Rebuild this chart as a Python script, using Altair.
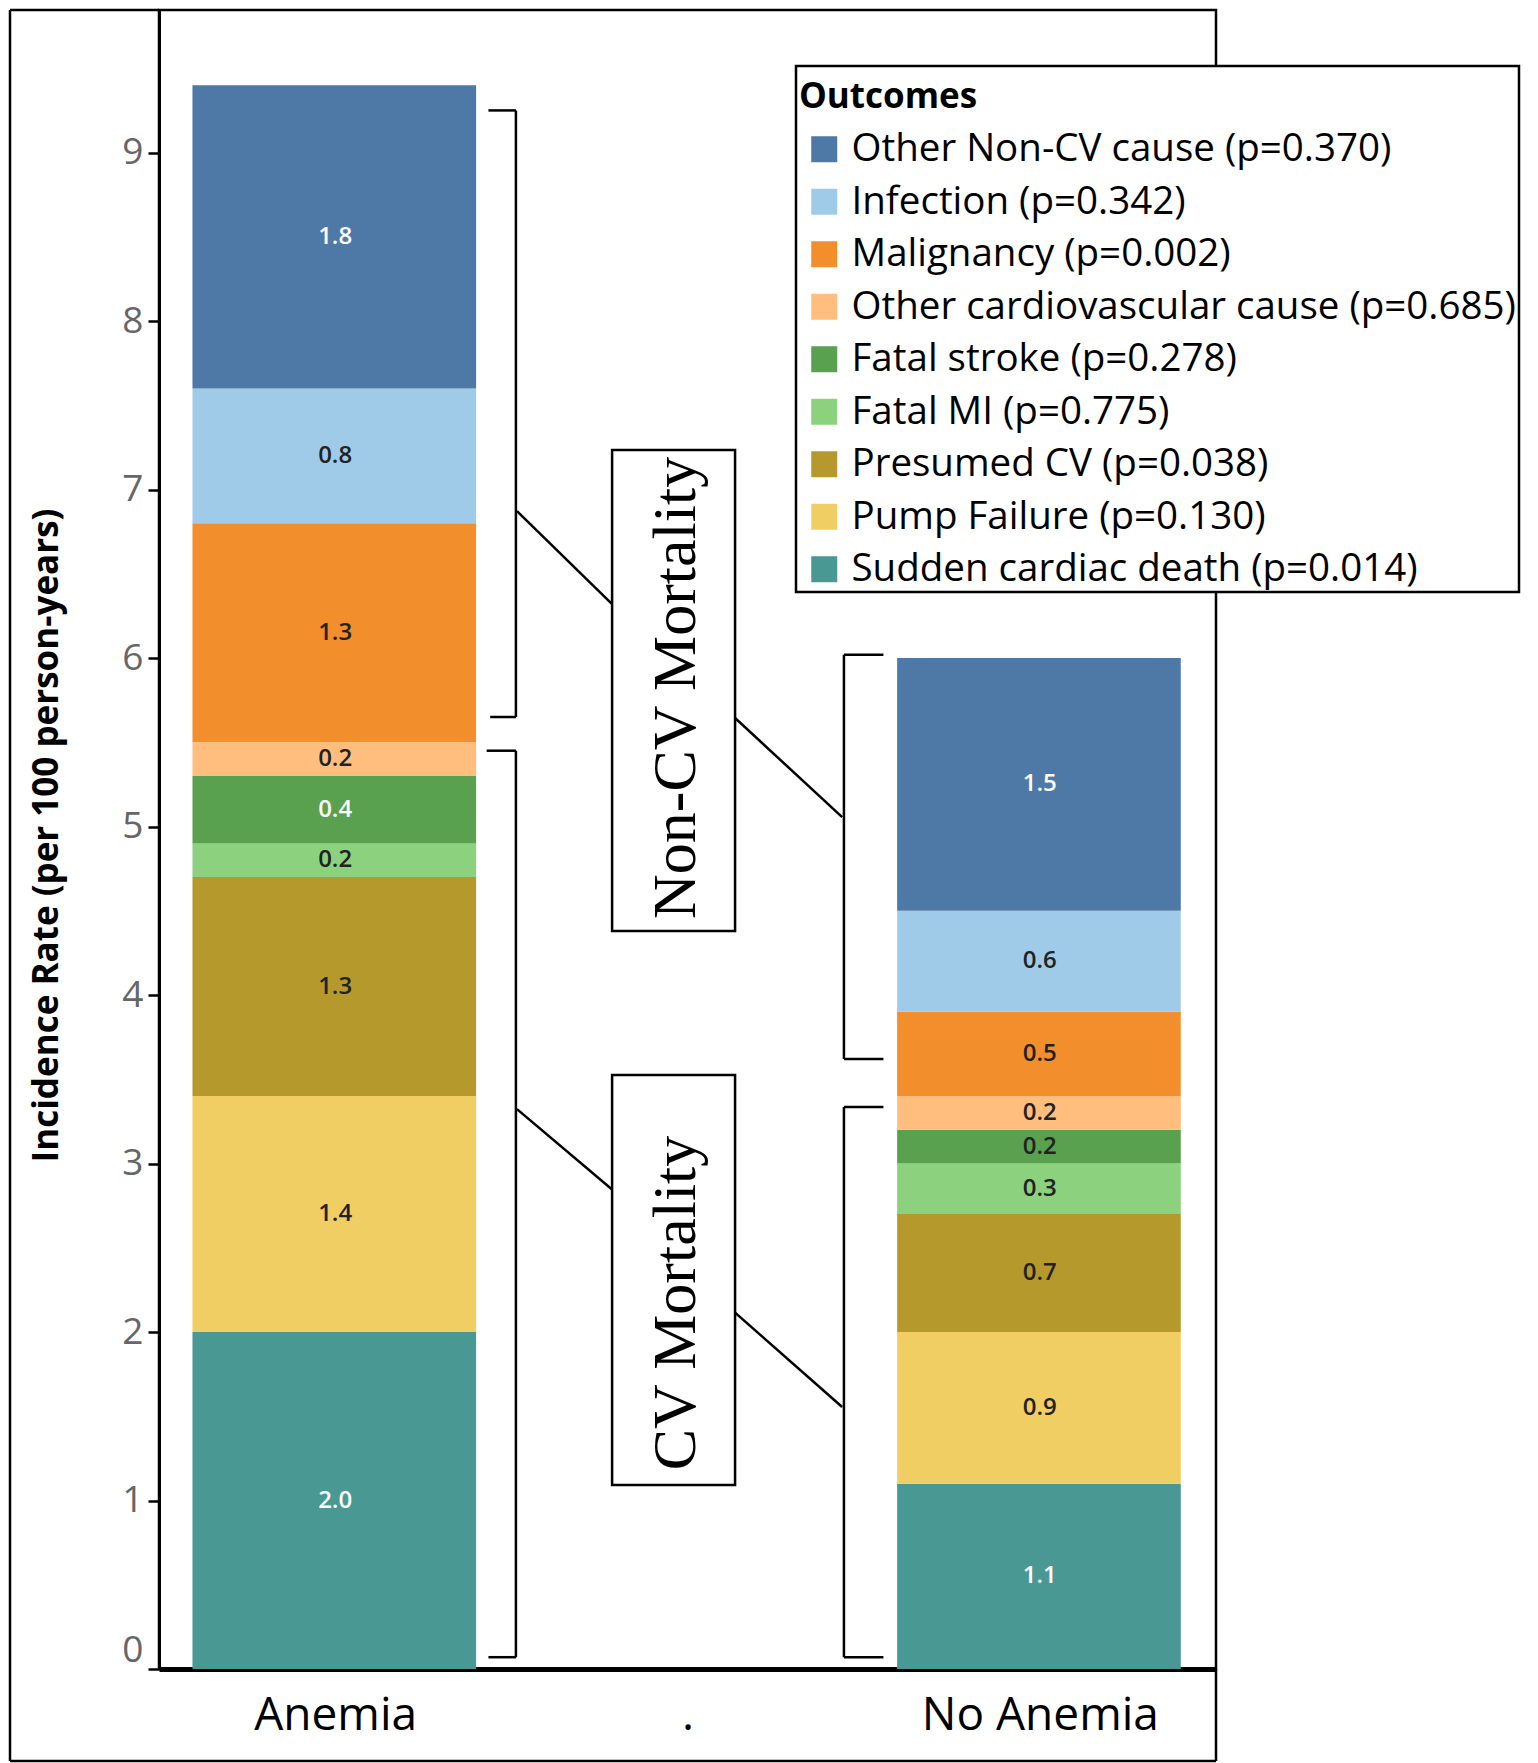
import altair as alt
import pandas as pd

# ---------------- data ----------------
groups = ["Anemia", "No Anemia"]
group_pos = [0, 2]
x_labels = ["Anemia", ".", "No Anemia"]
outcomes = ["Other Non-CV cause", "Infection", "Malignancy", "Other cardiovascular cause",
            "Fatal stroke", "Fatal MI", "Presumed CV", "Pump Failure", "Sudden cardiac death"]
p_values = ["0.370", "0.342", "0.002", "0.685", "0.278", "0.775", "0.038", "0.130", "0.014"]
anemia_vals = [1.8, 0.8, 1.3, 0.2, 0.4, 0.2, 1.3, 1.4, 2.0]
no_anemia_vals = [1.5, 0.6, 0.5, 0.2, 0.2, 0.3, 0.7, 0.9, 1.1]
colors = ["#4e79a7", "#a0cbe8", "#f28e2b", "#ffbe7d", "#59a14f",
          "#8cd17d", "#b6992d", "#f1ce63", "#499894"]
anemia_txt = ["white", "#222", "#222", "#222", "white", "#222", "#222", "#222", "white"]
no_anemia_txt = ["white", "#222", "#222", "#222", "#222", "#222", "#222", "#222", "white"]
y_ticks = list(range(10))
y_title = "Incidence Rate (per 100 person-years)"
legend_title = "Outcomes"
group_names = ["Non-CV Mortality", "CV Mortality"]

legend_labels = [f"{o} (p={p})" for o, p in zip(outcomes, p_values)]

rows = []
for g, pos, vals, tcols in [(groups[0], group_pos[0], anemia_vals, anemia_txt),
                            (groups[1], group_pos[1], no_anemia_vals, no_anemia_txt)]:
    for i, (lab, v, tc) in enumerate(zip(legend_labels, vals, tcols)):
        rows.append({"group": g, "pos": pos, "outcome": lab, "value": v,
                     "rank": len(outcomes) - 1 - i, "tcolor": tc})
df = pd.DataFrame(rows)

# annotation geometry (in data units)
seg_x = [0.513, 0.435, 0.440, 0.513, 0.430, 0.435,
         1.444, 1.444, 1.444, 1.444, 1.444, 1.444,
         0.516, 1.135, 0.516, 1.135]
seg_x2 = [0.513, 0.513, 0.513, 0.513, 0.513, 0.513,
          1.444, 1.556, 1.556, 1.444, 1.556, 1.556,
          0.786, 1.439, 0.786, 1.439]
seg_y = [9.25, 9.25, 5.65, 5.45, 5.45, 0.07,
         6.02, 6.02, 3.62, 3.335, 3.335, 0.07,
         6.872, 5.644, 3.323, 2.115]
seg_y2 = [5.65, 9.25, 5.65, 0.07, 5.45, 0.07,
          3.62, 6.02, 3.62, 0.07, 3.335, 0.07,
          6.32, 5.056, 2.846, 1.555]
seg_df = pd.DataFrame({"x": seg_x, "x2": seg_x2, "y": seg_y, "y2": seg_y2})

box_df = pd.DataFrame({"x": [0.786, 0.786], "x2": [1.135, 1.135],
                       "y": [4.38, 1.092], "y2": [7.234, 3.525],
                       "tx": [1.02, 1.02], "ty": [5.823, 2.172],
                       "name": group_names})

W, H = 1057, 1659
FONT = "Open Sans"
xscale = alt.Scale(domain=[-0.5, 2.5], nice=False, zero=False)
yscale = alt.Scale(domain=[0, 9.846], nice=False, zero=True)

label_expr = "[" + ",".join(f"'{l}'" for l in x_labels) + "][datum.value]"

x_axis = alt.Axis(values=[0, 1, 2], labelExpr=label_expr, title=None, grid=False,
                  ticks=False, tickSize=0, labelFont=FONT, labelFontSize=46,
                  labelColor="black", labelPadding=24, domainColor="black",
                  domainWidth=5, labelAngle=0, labelLimit=1000)
y_axis = alt.Axis(values=y_ticks, title=y_title, grid=False, tickSize=11,
                  tickWidth=2.5, tickColor="black", domainColor="black",
                  domainWidth=3, labelFont=FONT, labelFontSize=37,
                  labelColor="#666666", labelPadding=5, labelFlush=True,
                  titleFont=FONT, titleFontSize=35, titleFontWeight="bold",
                  titleColor="black", titleX=-113, titleY=825,
                  titleAlign="center", titleBaseline="middle", titleAngle=270)

base = alt.Chart(df).transform_stack(
    stack="value", groupby=["group"],
    sort=[alt.SortField("rank", order="ascending")],
    as_=["y0", "y1"],
).transform_calculate(
    xl="datum.pos - 0.405", xr="datum.pos + 0.4", ymid="(datum.y0 + datum.y1) / 2"
)

bars = base.mark_bar(opacity=1).encode(
    x=alt.X("xl:Q", scale=xscale, axis=x_axis),
    x2="xr:Q",
    y=alt.Y("y0:Q", scale=yscale, axis=y_axis),
    y2="y1:Q",
    color=alt.Color("outcome:N",
                    scale=alt.Scale(domain=legend_labels, range=colors),
                    legend=alt.Legend(title=legend_title, orient="none", legendX=637,
                                      legendY=56, direction="vertical",
                                      symbolType="square", symbolSize=676,
                                      symbolStrokeWidth=0, symbolOpacity=1,
                                      labelFont=FONT, labelFontSize=38.5,
                                      labelColor="black", titleFont=FONT,
                                      titleFontSize=35, titleFontWeight="bold",
                                      titleColor="black", titleBaseline="line-top",
                                      titleLineHeight=57,
                                      strokeColor="black",
                                      fillColor="white", padding=3, rowPadding=13.5,
                                      titlePadding=26, labelLimit=1000,
                                      symbolOffset=6, labelOffset=8, cornerRadius=0)),
    order=alt.Order("rank:Q"),
)

texts = base.mark_text(font=FONT, fontSize=24, fontWeight=600, baseline="middle",
                       align="center").encode(
    x=alt.X("pos:Q", scale=xscale, axis=x_axis),
    y=alt.Y("ymid:Q", scale=yscale, axis=y_axis),
    text=alt.Text("value:Q", format=".1f"),
    color=alt.Color("tcolor:N", scale=None, legend=None),
)

segs = alt.Chart(seg_df).mark_rule(color="black", strokeWidth=2.5).encode(
    x=alt.X("x:Q", scale=xscale, axis=x_axis),
    x2="x2:Q",
    y=alt.Y("y:Q", scale=yscale, axis=y_axis),
    y2="y2:Q",
)

boxes = alt.Chart(box_df).mark_rect(fill="white", stroke="black", strokeWidth=2.5).encode(
    x=alt.X("x:Q", scale=xscale, axis=x_axis),
    x2="x2:Q",
    y=alt.Y("y:Q", scale=yscale, axis=y_axis),
    y2="y2:Q",
)

box_text = alt.Chart(box_df).mark_text(font="Liberation Serif", fontSize=62, angle=270,
                                       align="center", baseline="alphabetic",
                                       color="black").encode(
    x=alt.X("tx:Q", scale=xscale, axis=x_axis),
    y=alt.Y("ty:Q", scale=yscale, axis=y_axis),
    text="name:N",
)

# outer frame decoration (pixel positions relative to plot area)
fw = 2.5
frame_left = alt.Chart().mark_rule(color="black", strokeWidth=fw).encode(
    x=alt.value(-149), y=alt.value(0), y2=alt.value(1751))
frame_bottom = alt.Chart().mark_rule(color="black", strokeWidth=fw).encode(
    x=alt.value(-149), x2=alt.value(W), y=alt.value(1751))
frame_right = alt.Chart().mark_rule(color="black", strokeWidth=fw).encode(
    x=alt.value(W), y=alt.value(H), y2=alt.value(1751))
frame_top = alt.Chart().mark_rule(color="black", strokeWidth=fw).encode(
    x=alt.value(-149), x2=alt.value(0), y=alt.value(0))

chart = alt.layer(
    bars, texts, segs, boxes, box_text, frame_left, frame_bottom, frame_right, frame_top
).properties(
    width=W, height=H, padding=0
).configure_view(
    stroke="black", strokeWidth=2.5
).configure_legend(
    strokeWidth=2.5
)

chart.save("out.html", embed_options={"renderer": "svg", "actions": False})
